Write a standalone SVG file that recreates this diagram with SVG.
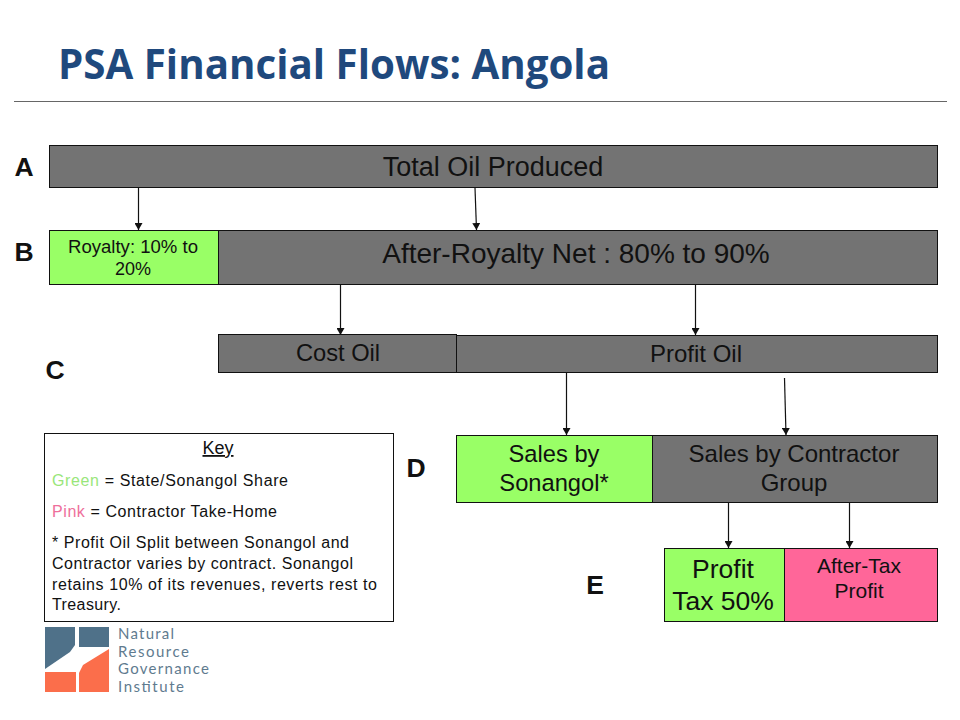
<svg xmlns="http://www.w3.org/2000/svg" width="960" height="720" viewBox="0 0 960 720">
<style>
text{font-family:"Liberation Sans",Arial,sans-serif;fill:#111;text-anchor:middle}
.box{stroke:#111;stroke-width:1}
.g{fill:#737373}.l{fill:#99ff66}.p{fill:#ff6699}
.lab{font-weight:bold;font-size:26.500px}
.k{font-size:16px;text-anchor:start}
.c line{stroke:#111;stroke-width:1.200;marker-end:url(#a)}
text.n{font-family:Lato,sans-serif;font-size:15px;fill:#5f7b8f;text-anchor:start}
</style>
<defs><marker id="a" markerUnits="userSpaceOnUse" markerWidth="8" markerHeight="8" refX="7" refY="4" orient="auto"><path d="M0 0L7 4L0 8z" fill="#111"/></marker></defs>
<rect width="960" height="720" fill="#fff"/>
<text id="title" x="58" y="79" style="font-family:'Open Sans',sans-serif;font-weight:bold;font-size:42px;fill:#1f497d;text-anchor:start" textLength="552" lengthAdjust="spacingAndGlyphs">PSA Financial Flows: Angola</text>
<line x1="14" y1="101.500" x2="947" y2="101.500" stroke="#666" stroke-width="1"/>
<g id="row-labels">
<text class="lab" x="24" y="176">A</text>
<text class="lab" x="24" y="261">B</text>
<text class="lab" x="55" y="379">C</text>
<text class="lab" x="416" y="477">D</text>
<text class="lab" x="595" y="594">E</text>
</g>
<g id="total-oil"><rect class="box g" x="49.500" y="145.500" width="888" height="42"/><text x="493" y="176" font-size="27">Total Oil Produced</text></g>
<g id="royalty"><rect class="box l" x="49.500" y="230.500" width="169" height="54"/><text x="133" y="253" font-size="18.300" textLength="130" lengthAdjust="spacingAndGlyphs">Royalty: 10% to</text><text x="133" y="275" font-size="18">20%</text></g>
<g id="after-royalty"><rect class="box g" x="218.500" y="230.500" width="719" height="54"/><text x="576" y="263" font-size="28">After-Royalty Net : 80% to 90%</text></g>
<g id="cost-oil"><rect class="box g" x="218.500" y="334.500" width="238" height="38"/><text x="338" y="361" font-size="23.700">Cost Oil</text></g>
<g id="profit-oil"><rect class="box g" x="456.500" y="335.500" width="481" height="37"/><text x="696" y="362" font-size="24">Profit Oil</text></g>
<g id="sales-sonangol"><rect class="box l" x="456.500" y="435.500" width="196" height="67"/><text x="554" y="462" font-size="23.700">Sales by</text><text x="554" y="491" font-size="23.700">Sonangol*</text></g>
<g id="sales-contractor"><rect class="box g" x="652.500" y="435.500" width="285" height="67"/><text x="794" y="462" font-size="24">Sales by Contractor</text><text x="794" y="491" font-size="24">Group</text></g>
<g id="profit-tax"><rect class="box l" x="664.500" y="548.500" width="120" height="73"/><text x="723" y="578" font-size="26.500">Profit</text><text x="723" y="610" font-size="26.500">Tax 50%</text></g>
<g id="after-tax"><rect class="box p" x="784.500" y="548.500" width="153" height="73"/><text x="859" y="573" font-size="21">After-Tax</text><text x="859" y="598" font-size="21">Profit</text></g>
<g id="key"><rect x="44.500" y="433.500" width="349" height="188" fill="#fff" stroke="#111"/>
<text x="218" y="454" font-size="18" text-decoration="underline">Key</text>
<text class="k" x="52" y="486" textLength="236"><tspan style="fill:#99e67a">Green</tspan> = State/Sonangol  Share</text>
<text class="k" x="52" y="517" textLength="225"><tspan style="fill:#ee6f9b">Pink</tspan> = Contractor  Take-Home</text>
<text class="k" x="52" y="548" textLength="297">* Profit Oil Split between Sonangol and</text>
<text class="k" x="52" y="569" textLength="301">Contractor varies by contract. Sonangol</text>
<text class="k" x="52" y="590" textLength="325">retains 10% of its revenues, reverts rest to</text>
<text class="k" x="52" y="610" textLength="69">Treasury.</text></g>
<g id="logo">
<path d="M45 627H75V645L70 652L45 669Z" fill="#4f7189"/>
<rect x="79" y="627" width="30" height="20" fill="#4f7189"/>
<rect x="45" y="672" width="31" height="20" fill="#fb6e4b"/>
<path d="M79 673L83 665L109 649V692H79Z" fill="#fb6e4b"/>
<text class="n" x="118" y="639" textLength="56">Natural</text>
<text class="n" x="118" y="656.500" textLength="71">Resource</text>
<text class="n" x="118" y="674" textLength="91">Governance</text>
<text class="n" x="118" y="691.500" textLength="66">Institute</text></g>
<g id="connectors" class="c">
<line x1="138.500" y1="188" x2="138.500" y2="230"/>
<line x1="475" y1="188" x2="476.500" y2="230"/>
<line x1="340.500" y1="285" x2="340.500" y2="335"/>
<line x1="695.500" y1="285" x2="695.500" y2="335"/>
<line x1="566.500" y1="373" x2="566.500" y2="435"/>
<line x1="784.500" y1="378" x2="786" y2="435"/>
<line x1="728.500" y1="503" x2="728.500" y2="548"/>
<line x1="849.500" y1="503" x2="849.500" y2="548"/>
</g>
</svg>
